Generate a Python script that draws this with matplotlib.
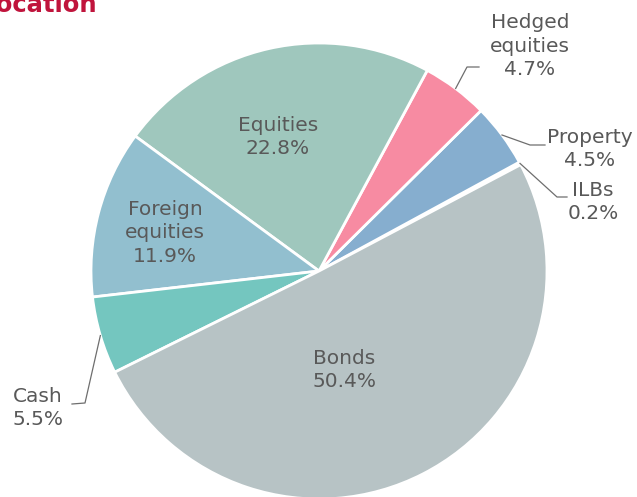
import matplotlib
matplotlib.use("Agg")
import matplotlib.pyplot as plt
import numpy as np

categories = ["ILBs", "Property", "Hedged equities", "Equities", "Foreign equities", "Cash", "Bonds"]
values = [0.2, 4.5, 4.7, 22.8, 11.9, 5.5, 50.4]
label_texts = ["ILBs", "Property", "Hedged\nequities", "Equities", "Foreign\nequities", "Cash", "Bonds"]
colors = ["#fdebb8", "#86aecf", "#f78ba2", "#9fc7bd", "#92bfcf", "#74c6bf", "#b7c3c5"]

W, H = 637, 497
fig = plt.figure(figsize=(W / 100, H / 100), dpi=100)
cx, cy, R = 319, 271, 228
ax = fig.add_axes([(cx - R) / W, (H - cy - R) / H, 2 * R / W, 2 * R / H])

wedges, _ = ax.pie(values, colors=colors, startangle=27.8, counterclock=True, radius=1,
                   wedgeprops=dict(edgecolor="white", linewidth=2))
ax.set_xlim(-1, 1)
ax.set_ylim(-1, 1)
ax.set_aspect("equal")
ax.axis("off")

tc = "#595959"
fs = 14.5
ls = 1.3

def px(x, y):
    return ((x - cx) / R, (cy - y) / R)

# inside labels
inside = {"Equities": (278, 137), "Foreign equities": (165, 233), "Bonds": (344, 370)}
for i, c in enumerate(categories):
    if c in inside:
        ax.text(*px(*inside[c]), f"{label_texts[i]}\n{values[i]:.1f}%", ha="center", va="center",
                fontsize=fs, color=tc, linespacing=ls)

# outside labels with leader lines
outside = {
    "Hedged equities": dict(elbow=(467, 67), end=(479, 67), text=(530, 46)),
    "Property": dict(elbow=(530, 145), end=(545, 145), text=(590, 149)),
    "ILBs": dict(elbow=(557, 197), end=(567, 197), text=(593, 202)),
    "Cash": dict(elbow=(85, 403), end=(72, 404), text=(38, 408)),
}
for i, c in enumerate(categories):
    if c in outside:
        w = wedges[i]
        mid = np.deg2rad((w.theta1 + w.theta2) / 2)
        sx, sy = np.cos(mid) * 1.0, np.sin(mid) * 1.0
        o = outside[c]
        ex, ey = px(*o["elbow"])
        nx, ny = px(*o["end"])
        ax.plot([sx, ex, nx], [sy, ey, ny], color="#6e6e6e", lw=0.9, clip_on=False)
        ax.text(*px(*o["text"]), f"{label_texts[i]}\n{values[i]:.1f}%", ha="center", va="center",
                fontsize=fs, color=tc, linespacing=ls, clip_on=False)

fig.text(97 / W, 1 - 12 / H, "Asset allocation", ha="right", va="baseline",
         fontsize=17.5, fontweight="bold", color="#c0143c")

fig.savefig("out.png", dpi=100)
